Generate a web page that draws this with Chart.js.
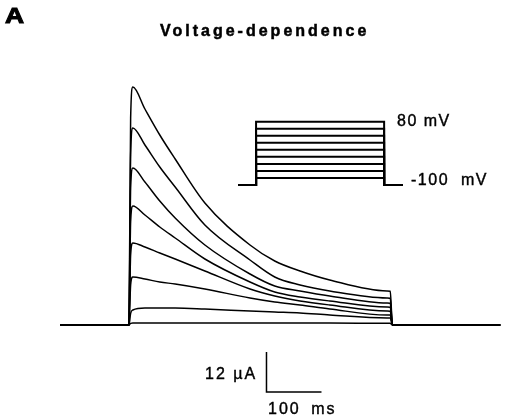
<!DOCTYPE html>
<html>
<head>
<meta charset="utf-8">
<script src="https://cdn.jsdelivr.net/npm/chart.js@4"></script>
<style>
  body { margin: 0; background: #fff; }
  #wrap { position: relative; width: 508px; height: 420px; }
  canvas { position: absolute; }
  #chart { left: 0; top: 0; }
  #inset { left: 238px; top: 115px; }
  .lbl { position: absolute; font-family: "Liberation Sans", Arial, sans-serif; color: #000; line-height: 1; white-space: nowrap; -webkit-text-stroke: 0.4px #000; }
</style>
</head>
<body>
<div id="wrap">
  <canvas id="chart" width="508" height="420"></canvas>
  <canvas id="inset" width="165" height="75"></canvas>
  <div class="lbl" style="left:5px; top:5px; font-size:22px; font-weight:bold; -webkit-text-stroke:1px #000; transform:scaleX(1.2); transform-origin:left top;">A</div>
  <div class="lbl" style="left:160px; top:23px; font-size:16px; font-weight:bold; letter-spacing:3px; -webkit-text-stroke:0.5px #000;">Voltage-dependence</div>
  <div class="lbl" style="left:397px; top:113px; font-size:16px; letter-spacing:1.5px;">80 mV</div>
  <div class="lbl" style="left:411px; top:172px; font-size:16px; letter-spacing:1.5px; word-spacing:6px;">-100 mV</div>
  <div class="lbl" style="left:205px; top:366px; font-size:16px; letter-spacing:2px;">12 µA</div>
  <div class="lbl" style="left:268px; top:401px; font-size:16px; letter-spacing:2px; word-spacing:4px;">100 ms</div>
</div>
<script>
// sample times of the current traces (ms from step onset)
const timeMs = [-125, 0, 3, 7, 29, 56, 84, 138, 220, 265, 311, 365, 469, 475, 479, 675];

// current (µA) for each voltage step, largest (80 mV) first
const i80 = [0, 0, 62, 71.4, 64.8, 57, 49.8, 36.6, 24, 19.2, 16.2, 13.5, 10.2, 10.1, 0, 0];
const i60 = [0, 0, 51, 59.1, 54, 47.4, 41.4, 30, 19.5, 14.4, 12, 10.2, 8.1, 8, 0, 0];
const i40 = [0, 0, 41, 47.1, 42.9, 37.2, 32.1, 24, 15.3, 11.7, 10.2, 8.7, 6.6, 6.5, 0, 0];
const i20 = [0, 0, 31, 35.7, 33, 29.4, 26.1, 19.8, 12.9, 9.9, 8.4, 7.2, 5.4, 5.3, 0, 0];
const i0 = [0, 0, 21, 24.6, 23.4, 21.6, 19.8, 16.2, 10.8, 8.7, 7.2, 6, 4.2, 4.1, 0, 0];
const im20 = [0, 0, 12, 14.4, 13.8, 12.9, 12.3, 10.8, 8.1, 6.9, 6, 4.8, 3, 3, 0, 0];
const im40 = [0, 0, 3.5, 4.5, 5.1, 5.1, 5.1, 4.8, 4.2, 3.9, 3.6, 3, 2.1, 2.1, 0, 0];
const im60 = [0, 0, 0.5, 0.6, 0.6, 0.6, 0.6, 0.6, 0.6, 0.6, 0.6, 0.6, 0.5, 0.5, 0, 0];
const traces = [i80, i60, i40, i20, i0, im20, im40, im60];

// voltage protocol for the inset
const holdMv = -100;
const stepMv = [-80, -60, -40, -20, 0, 20, 40, 60, 80];
const protoTime = [-67, 0, 0, 475, 475, 545];

// scale bar: 12 µA by 100 ms, lower-left corner at (250 ms, -20.1 µA)
const barT = [250, 250, 350];
const barI = [-8.1, -20.1, -20.1];

const traceSets = traces.map((vals) => ({
  data: timeMs.map((t, k) => ({ x: t, y: vals[k] })),
  borderColor: "#000",
  borderWidth: 1.5,
  pointRadius: 0,
  cubicInterpolationMode: "monotone",
}));

traceSets.push({
  data: barT.map((t, k) => ({ x: t, y: barI[k] })),
  borderColor: "#000",
  borderWidth: 1.5,
  pointRadius: 0,
  tension: 0,
});

const hidden = { display: false };

new Chart(document.getElementById("chart"), {
  type: "line",
  data: { datasets: traceSets },
  options: {
    responsive: false,
    animation: false,
    layout: { padding: 0 },
    plugins: { legend: hidden, tooltip: { enabled: false } },
    scales: {
      x: { type: "linear", min: -234.5, max: 689.1, display: false },
      y: { type: "linear", min: -28.5, max: 97.5, display: false },
    },
  },
});

const stepSets = stepMv.map((v) => ({
  data: protoTime.map((t, k) => ({ x: t, y: k === 0 || k === 1 || k === 4 || k === 5 ? holdMv : v })),
  borderColor: "#000",
  borderWidth: 2,
  pointRadius: 0,
  tension: 0,
}));

new Chart(document.getElementById("inset"), {
  type: "line",
  data: { datasets: stepSets },
  options: {
    responsive: false,
    animation: false,
    layout: { padding: 0 },
    plugins: { legend: hidden, tooltip: { enabled: false } },
    scales: {
      x: { type: "linear", min: -67, max: 545, display: false },
      y: { type: "linear", min: -114.2, max: 99, display: false },
    },
  },
});
</script>
</body>
</html>
